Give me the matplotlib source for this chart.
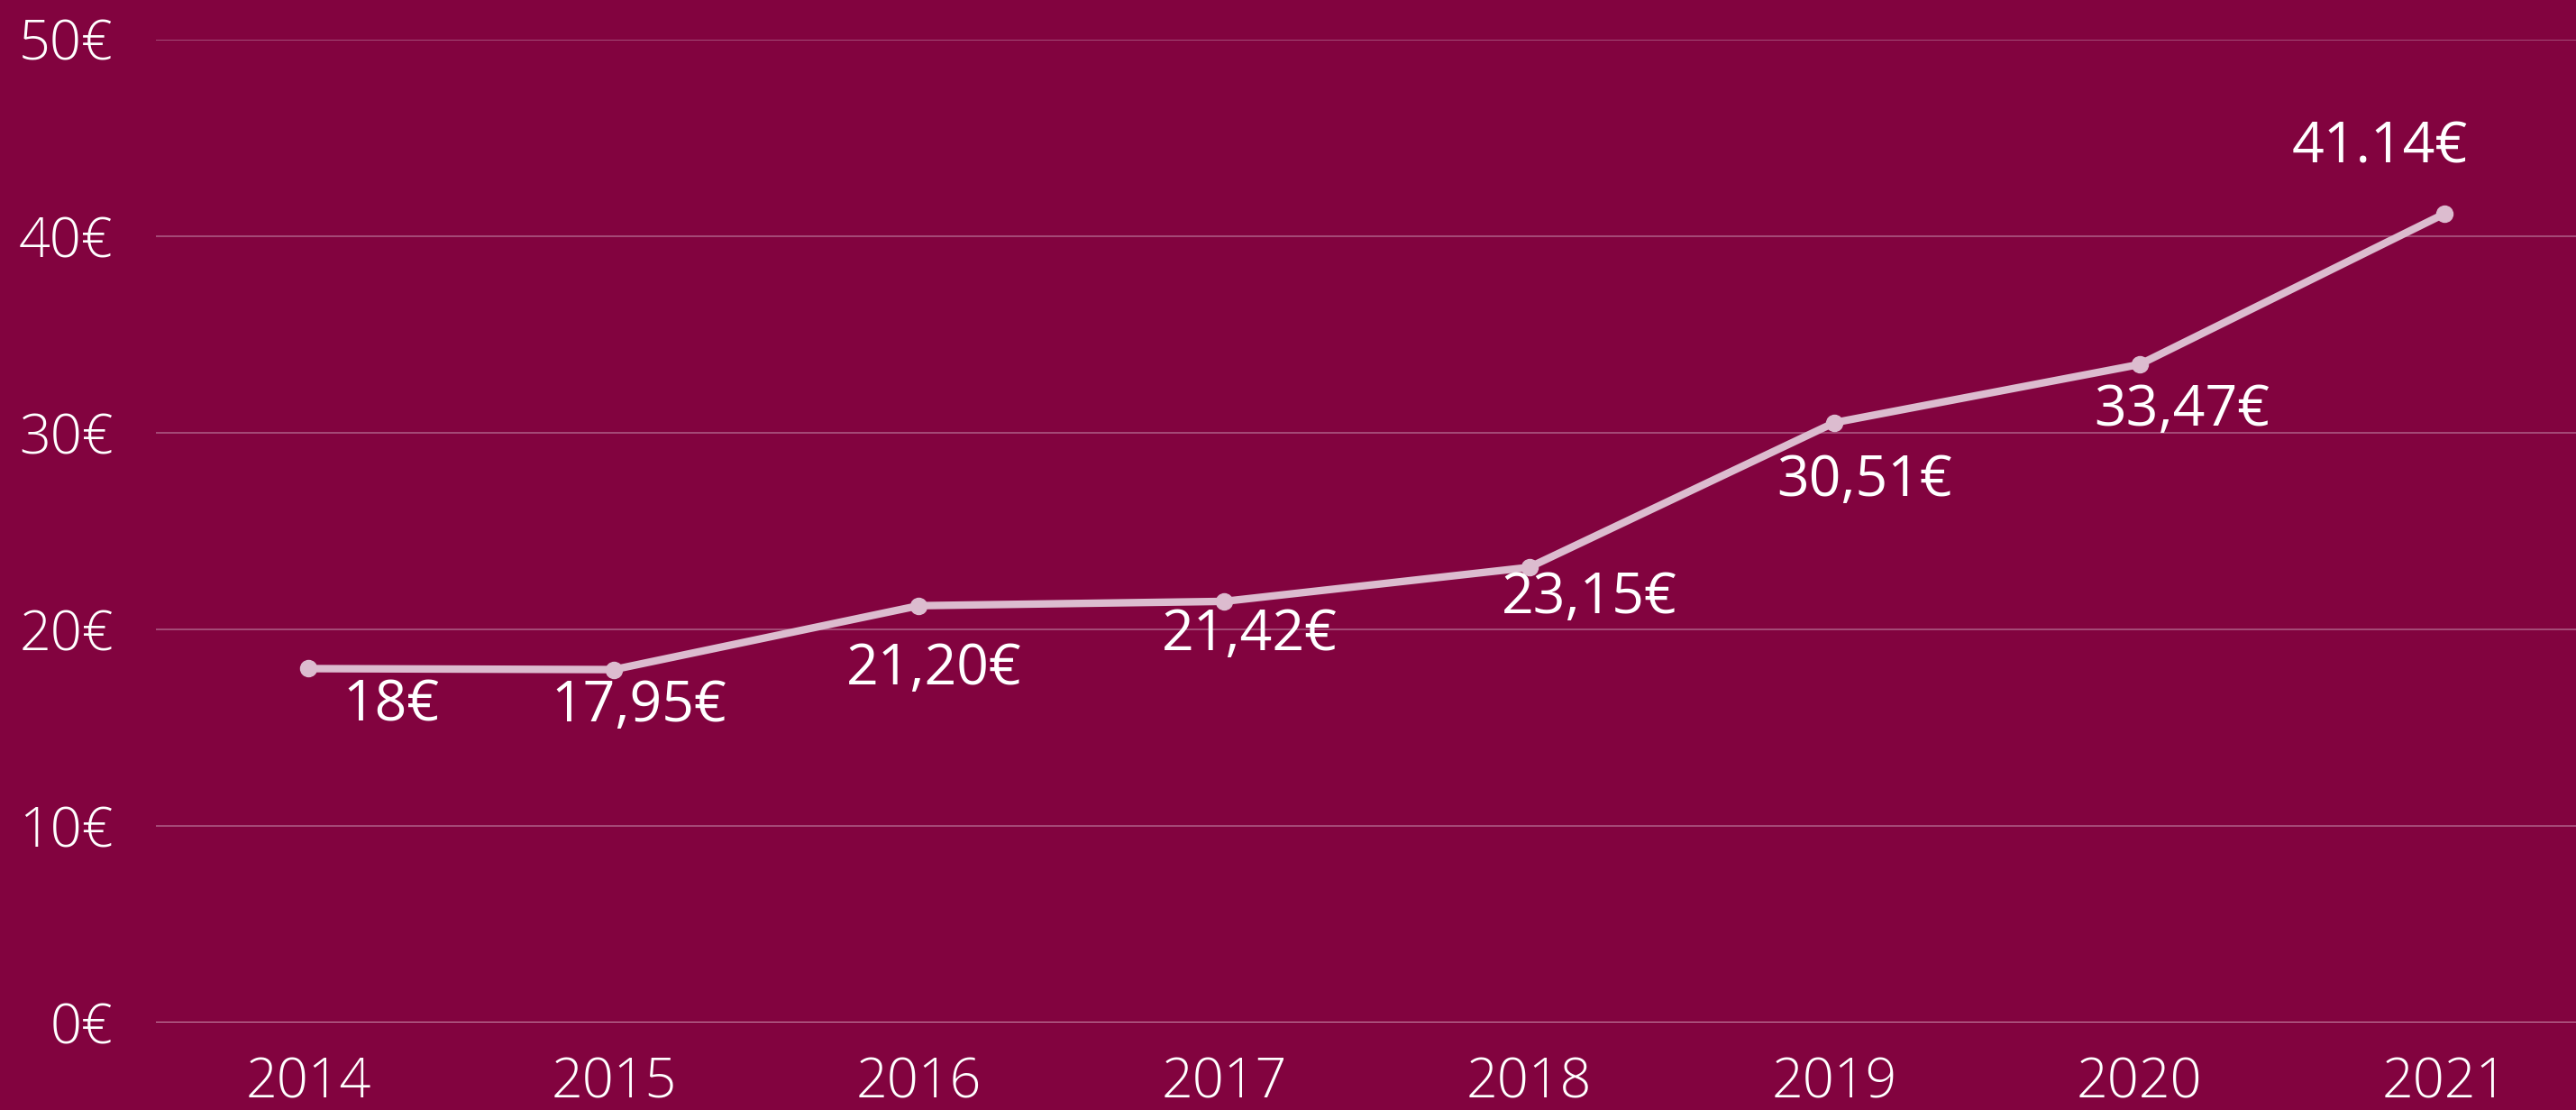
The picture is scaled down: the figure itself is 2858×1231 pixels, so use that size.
import matplotlib.pyplot as plt
from matplotlib.ticker import FuncFormatter

years = [2014, 2015, 2016, 2017, 2018, 2019, 2020, 2021]
prices = [18, 17.95, 21.20, 21.42, 23.15, 30.51, 33.47, 41.14]
labels = ["18€", "17,95€", "21,20€", "21,42€", "23,15€", "30,51€", "33,47€", "41.14€"]
# label offsets in points (dx, dy) relative to each point
offsets = [(66, -30), (20, -30), (12, -51), (20, -27), (48, -25), (24, -47), (34, -37), (-52, 52)]

bg = "#82033f"
line_col = "#dcbccf"

fig = plt.figure(figsize=(28.58, 12.31), dpi=100, facecolor=bg)
ax = fig.add_axes([173 / 2858, 97 / 1231, 1 - 173 / 2858, (1134 - 43.7) / 1231])
ax.set_facecolor(bg)

ax.plot(years, prices, color=line_col, lw=6, marker="o", ms=13, zorder=3)

for x, y, s, (dx, dy) in zip(years, prices, labels, offsets):
    ax.annotate(s, (x, y), xytext=(dx, dy), textcoords="offset points",
                ha="center", va="center", color="white", fontsize=45,
                family=["Open Sans", "DejaVu Sans"])

ax.set_ylim(0, 50)
ax.set_xlim(2013.5, 2021.43)
ax.set_yticks(range(0, 51, 10))
ax.set_xticks(years)
ax.yaxis.set_major_formatter(FuncFormatter(lambda v, p: f"{int(v)}€"))
ax.grid(axis="y", color="#a8517c", lw=1.3)
ax.set_axisbelow(True)
for sp in ax.spines.values():
    sp.set_visible(False)
ax.axhline(0, color="#d8a6be", lw=1.8, zorder=2)
ax.tick_params(length=0, colors="white", labelsize=44)
ax.tick_params(axis="y", pad=34)
ax.tick_params(axis="x", pad=27)
for t in ax.get_xticklabels() + ax.get_yticklabels():
    t.set_family(["Open Sans", "DejaVu Sans"])
    t.set_fontweight("light")

fig.savefig("out.png", facecolor=bg)
